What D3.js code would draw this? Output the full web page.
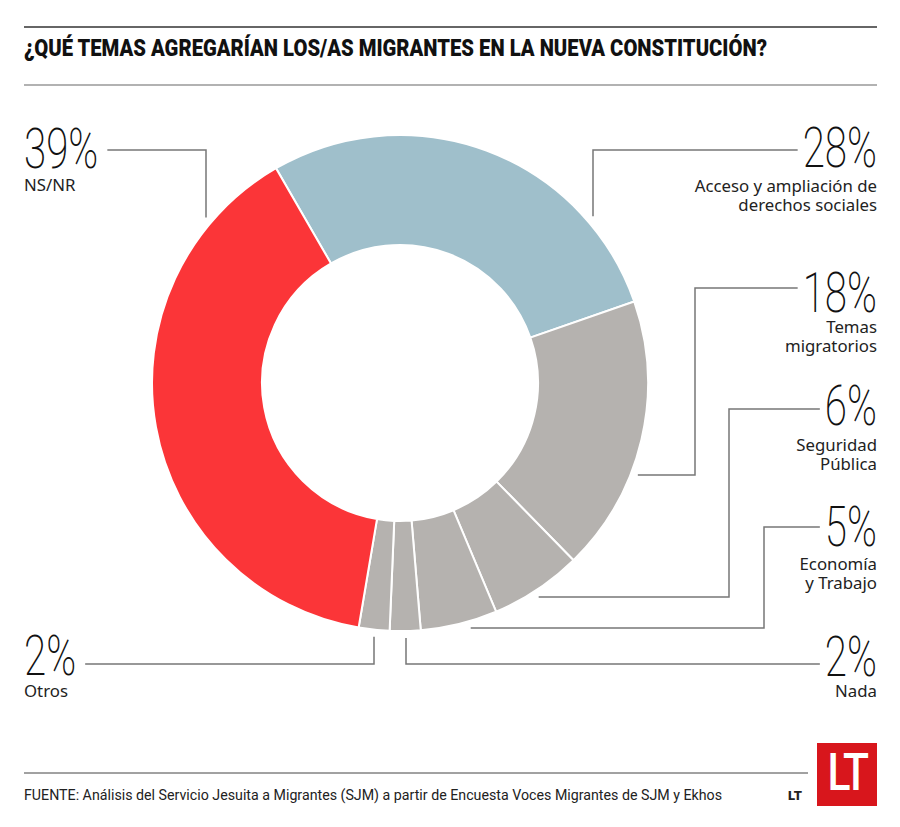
<!DOCTYPE html>
<html>
<head>
<meta charset="utf-8">
<script src="https://cdn.jsdelivr.net/npm/d3@7"></script>
<style>
  body { margin: 0; background: #fff; }
</style>
</head>
<body>
<div id="chart"></div>
<script>
// data
const categories = ["Acceso y ampliación de derechos sociales", "Temas migratorios", "Seguridad Pública",
  "Economía y Trabajo", "Nada", "Otros", "NS/NR"];
const values = [28, 18, 6, 5, 2, 2, 39];
const labelLines = [
  ["Acceso y ampliación de", "derechos sociales"],
  ["Temas", "migratorios"],
  ["Seguridad", "Pública"],
  ["Economía", "y Trabajo"],
  ["Nada"],
  ["Otros"],
  ["NS/NR"]
];
const sliceColors = ["#9fbfcb", "#b5b2af", "#b5b2af", "#b5b2af", "#b5b2af", "#b5b2af", "#fb3538"];
const titleText = "¿QUÉ TEMAS AGREGARÍAN LOS/AS MIGRANTES EN LA NUEVA CONSTITUCIÓN?";
const sourceText = "FUENTE: Análisis del Servicio Jesuita a Migrantes (SJM) a partir de Encuesta Voces Migrantes de SJM y Ekhos";

// layout
const width = 900, height = 827;
const cx = 400, cy = 383, rOuter = 248, rInner = 138;
const leaderGap = 7;
const numScale = 0.72;
// side, baseline of the number, y of the first leader segment, elbow(s), baselines of the label lines
const leaderLayout = [
  {side: "right", numY: 167, lineY: 150, elbow: [593], textY: [192, 211]},
  {side: "right", numY: 312, lineY: 288, elbow: [695, 475], textY: [333, 352]},
  {side: "right", numY: 425, lineY: 409, elbow: [729, 597], textY: [451, 470]},
  {side: "right", numY: 546, lineY: 527, elbow: [764, 628], textY: [570, 589]},
  {side: "right", numY: 676, lineY: 664, elbow: [406], textY: [697]},
  {side: "left", numY: 675, lineY: 664, elbow: [374], textY: [697]},
  {side: "left", numY: 168, lineY: 150, elbow: [206], textY: [191]}
];

const svg = d3.select("#chart").append("svg")
  .attr("width", width)
  .attr("height", height);

// rules + title
svg.append("line").attr("x1", 24).attr("x2", 877).attr("y1", 27).attr("y2", 27)
  .attr("stroke", "#333").attr("stroke-width", 1.5);
svg.append("text")
  .attr("x", 24).attr("y", 56)
  .attr("textLength", 743).attr("lengthAdjust", "spacingAndGlyphs")
  .style("font-family", "Roboto, sans-serif").style("font-weight", 900).style("font-size", "23px")
  .attr("fill", "#111")
  .text(titleText);
svg.append("line").attr("x1", 24).attr("x2", 877).attr("y1", 85).attr("y2", 85)
  .attr("stroke", "#999").attr("stroke-width", 1.5);

// donut
const pie = d3.pie().sort(null)
  .startAngle(-30 * Math.PI / 180)
  .endAngle(330 * Math.PI / 180);
const arc = d3.arc().innerRadius(rInner).outerRadius(rOuter);
const arcs = pie(values);

const donut = svg.append("g").attr("transform", "translate(" + cx + "," + cy + ")");
donut.selectAll("path.slice")
  .data(arcs)
  .enter().append("path")
  .attr("class", "slice")
  .attr("d", arc)
  .attr("fill", (d, i) => sliceColors[i])
  .attr("stroke", "#fff")
  .attr("stroke-width", 2);

// labels and leaders
const rEdge = rOuter + leaderGap;
leaderLayout.forEach((lay, i) => {
  const right = lay.side === "right";
  const xText = right ? 877 : 24;
  const anchor = right ? "end" : "start";

  // condensed look for the big numbers
  const num = svg.append("g")
    .attr("transform", "translate(" + xText + "," + lay.numY + ") scale(" + numScale + ",1)")
    .append("text")
    .attr("text-anchor", anchor)
    .style("font-family", "Roboto, sans-serif").style("font-weight", 200).style("font-size", "56px")
    .attr("fill", "#111")
    .text(values[i] + "%");
  const w = num.node().getComputedTextLength() * numScale;

  const lbl = svg.append("text")
    .attr("text-anchor", anchor)
    .style("font-family", "'Noto Sans', sans-serif").style("font-size", "16.8px")
    .attr("fill", "#222");
  labelLines[i].forEach((ln, j) => {
    lbl.append("tspan").attr("x", xText).attr("y", lay.textY[j]).text(ln);
  });

  // leader path
  const x0 = right ? xText - w - 5 : xText + w + 9;
  const pts = [[x0, lay.lineY], [lay.elbow[0], lay.lineY]];
  if (lay.elbow.length === 2) {
    const y1 = lay.elbow[1];
    pts.push([lay.elbow[0], y1]);
    const dx = Math.sqrt(rEdge * rEdge - (y1 - cy) * (y1 - cy));
    pts.push([right ? cx + dx : cx - dx, y1]);
  } else {
    const x1 = lay.elbow[0];
    const dy = Math.sqrt(rEdge * rEdge - (x1 - cx) * (x1 - cx));
    pts.push([x1, lay.lineY < cy ? cy - dy : cy + dy]);
  }
  svg.append("path")
    .attr("d", d3.line()(pts))
    .attr("fill", "none")
    .attr("stroke", "#777")
    .attr("stroke-width", 1.5);
});

// footer
svg.append("line").attr("x1", 24).attr("x2", 808).attr("y1", 773).attr("y2", 773)
  .attr("stroke", "#444").attr("stroke-width", 1);
svg.append("text")
  .attr("x", 24).attr("y", 800)
  .attr("textLength", 698).attr("lengthAdjust", "spacingAndGlyphs")
  .style("font-family", "Roboto, sans-serif").style("font-size", "15px")
  .attr("fill", "#222")
  .text(sourceText);
svg.append("text")
  .attr("x", 802).attr("y", 800)
  .attr("text-anchor", "end")
  .style("font-family", "Roboto, sans-serif").style("font-weight", 900).style("font-size", "13px")
  .attr("fill", "#222")
  .text("LT");
svg.append("rect")
  .attr("x", 817).attr("y", 743).attr("width", 60).attr("height", 63)
  .attr("fill", "#d8161c");
svg.append("g")
  .attr("transform", "translate(847,790) scale(0.82,1)")
  .append("text")
  .attr("text-anchor", "middle")
  .style("font-family", "Roboto, sans-serif").style("font-weight", 500).style("font-size", "52px")
  .style("letter-spacing", "-3px")
  .attr("fill", "#fff")
  .text("LT");
</script>
</body>
</html>
